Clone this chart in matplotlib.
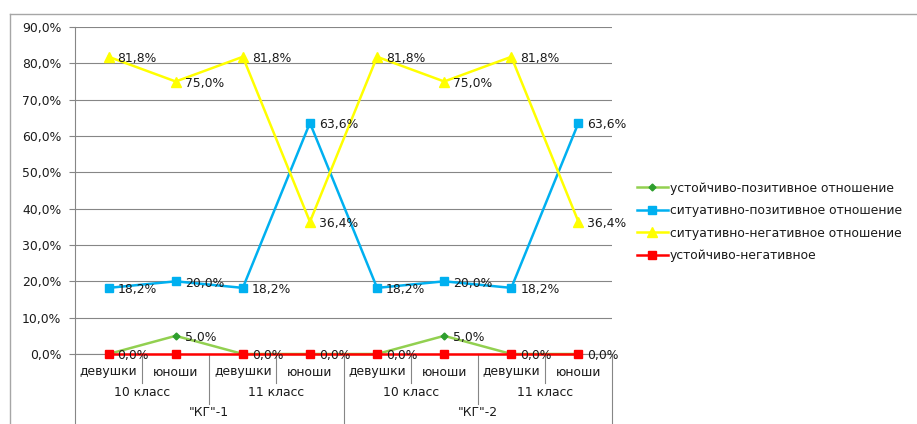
import matplotlib
matplotlib.use('Agg')
import matplotlib.pyplot as plt
from matplotlib.lines import Line2D
from matplotlib.ticker import FuncFormatter

# categories (three levels)
level1 = ['девушки', 'юноши', 'девушки', 'юноши', 'девушки', 'юноши', 'девушки', 'юноши']
level2 = ['10 класс', '11 класс', '10 класс', '11 класс']
level3 = ['"КГ"-1', '"КГ"-2']

series_names = ['устойчиво-позитивное отношение', 'ситуативно-позитивное отношение',
                'ситуативно-негативное отношение', 'устойчиво-негативное']
stable_pos = [0.0, 5.0, 0.0, 0.0, 0.0, 5.0, 0.0, 0.0]
situat_pos = [18.2, 20.0, 18.2, 63.6, 18.2, 20.0, 18.2, 63.6]
situat_neg = [81.8, 75.0, 81.8, 36.4, 81.8, 75.0, 81.8, 36.4]
stable_neg = [0.0, 0.0, 0.0, 0.0, 0.0, 0.0, 0.0, 0.0]

W, H = 917, 424
fig = plt.figure(figsize=(W / 100, H / 100), dpi=100)
plt.rcParams['font.family'] = ['DejaVu Sans']
fs = 8.9
grey = '#868686'
txt = '#1a1a1a'

ax = fig.add_axes([75 / W, 1 - 354 / H, (612 - 75) / W, (354 - 27) / H])
x = list(range(len(level1)))

styles = [
    dict(data=stable_pos, color='#92D050', mcolor='#2E9E2E', marker='D', ms=3.5, labels=True),
    dict(data=situat_pos, color='#00B0F0', mcolor='#00B0F0', marker='s', ms=6, labels=True),
    dict(data=situat_neg, color='#FFFF00', mcolor='#FFFF00', marker='^', ms=6.5, labels=True),
    dict(data=stable_neg, color='#FF0000', mcolor='#FF0000', marker='s', ms=6, labels=False),
]
for name, st in zip(series_names, styles):
    ax.plot(x, st['data'], color=st['color'], lw=1.8, marker=st['marker'], ms=st['ms'],
            mfc=st['mcolor'], mec=st['mcolor'], label=name, zorder=3, clip_on=False)
    if st['labels']:
        for xi, v in zip(x, st['data']):
            ax.annotate(f"{v:.1f}%".replace('.', ','), (xi, v), xytext=(9, -2),
                        textcoords='offset pixels', ha='left', va='center',
                        fontsize=fs, color=txt, zorder=4)

ax.set_xlim(-0.5, 7.5)
ax.set_ylim(0, 90)
ax.set_yticks(range(0, 91, 10))
ax.yaxis.set_major_formatter(FuncFormatter(lambda v, p: f"{v:.1f}%".replace('.', ',')))
ax.tick_params(axis='y', length=4, width=0.8, color=grey, pad=6, labelsize=fs, labelcolor=txt)
ax.tick_params(axis='x', length=0, labelbottom=False)
ax.set_xticks([])
ax.grid(axis='y', color=grey, lw=0.8)
ax.set_axisbelow(True)
for s in ['top', 'right']:
    ax.spines[s].set_visible(False)
for s in ['left', 'bottom']:
    ax.spines[s].set_color(grey)
    ax.spines[s].set_linewidth(0.8)

# multi-level category axis
tr = ax.get_xaxis_transform()
def ay(py):
    return (354 - py) / (354 - 27)

for xi, lab in zip(x, level1):
    ax.text(xi, ay(372), lab, transform=tr, ha='center', va='center', fontsize=fs, color=txt)
for i, lab in enumerate(level2):
    ax.text(2 * i + 0.5, ay(393), lab, transform=tr, ha='center', va='center', fontsize=fs, color=txt)
for i, lab in enumerate(level3):
    ax.text(4 * i + 1.5, ay(413), lab, transform=tr, ha='center', va='center', fontsize=fs, color=txt)

for b in [x_ + 0.5 for x_ in range(-1, 8)]:
    if b in (-0.5, 3.5, 7.5):
        end = 424
    elif b in (1.5, 5.5):
        end = 404
    else:
        end = 383
    ax.plot([b, b], [0, ay(end)], transform=tr, color=grey, lw=0.8, clip_on=False)

# outer chart frame
fig.add_artist(Line2D([10 / W, 1], [1 - 14 / H, 1 - 14 / H], color='#a6a6a6', lw=1))
fig.add_artist(Line2D([10 / W, 10 / W], [0, 1 - 14 / H], color='#a6a6a6', lw=1))

fig.legend(loc='center left', bbox_to_anchor=(637 / W, 1 - 222 / H), frameon=False,
           fontsize=fs, handlelength=2.5, handletextpad=0.15, labelspacing=0.78,
           borderpad=0, borderaxespad=0, labelcolor=txt)

fig.savefig('out.png', dpi=100)
